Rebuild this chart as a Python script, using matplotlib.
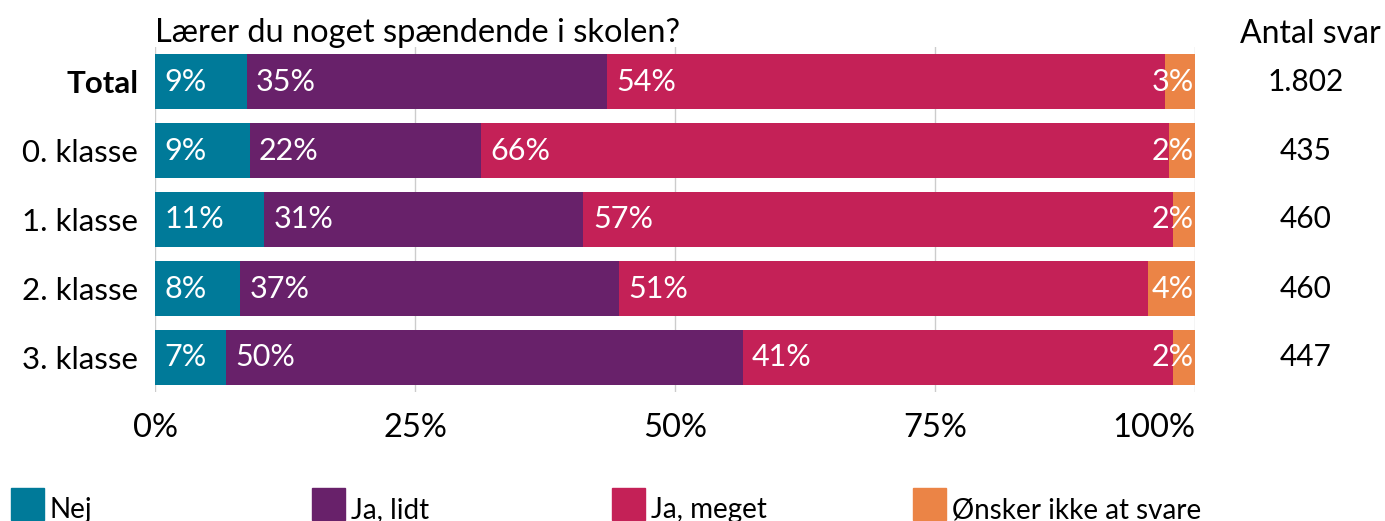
"""Stacked bar chart: Lærer du noget spændende i skolen?"""

import matplotlib

matplotlib.use("Agg")
import matplotlib.pyplot as plt
from matplotlib.patches import Rectangle
from matplotlib.transforms import blended_transform_factory

plt.rcParams["font.family"] = ["Lato", "DejaVu Sans"]

categories = ["Total", "0. klasse", "1. klasse", "2. klasse", "3. klasse"]
answer_counts = ["1.802", "435", "460", "460", "447"]
series_names = ["Nej", "Ja, lidt", "Ja, meget", "Ønsker ikke at svare"]
series_colors = ["#007A99", "#68216A", "#C42157", "#EB8446"]

# shares in percent
nej = [8.8, 9.1, 10.5, 8.2, 6.8]
ja_lidt = [34.7, 22.2, 30.7, 36.4, 49.7]
ja_meget = [53.6, 66.2, 56.7, 50.9, 41.4]
oensker_ikke = [2.9, 2.5, 2.1, 4.5, 2.1]
value_labels = [
    ["9%", "9%", "11%", "8%", "7%"],
    ["35%", "22%", "31%", "37%", "50%"],
    ["54%", "66%", "57%", "51%", "41%"],
    ["3%", "2%", "2%", "4%", "2%"],
]
x_ticks = [0, 25, 50, 75, 100]
x_tick_labels = ["0%", "25%", "50%", "75%", "100%"]

series_values = [nej, ja_lidt, ja_meget, oensker_ikke]

width_px, height_px = 1385, 521
figure = plt.figure(figsize=(width_px / 100, height_px / 100), dpi=100)
axis = figure.add_axes(
    [155 / width_px, 1 - 392 / height_px, 1040 / width_px, 345 / height_px]
)

rows = list(range(len(categories)))
left = [0.0] * len(categories)
for index, values in enumerate(series_values):
    axis.barh(
        rows,
        values,
        left=left,
        height=0.8,
        color=series_colors[index],
        zorder=2,
    )
    for row in rows:
        last = index == len(series_values) - 1
        axis.text(
            99.9 if last else left[row] + 0.9,
            row,
            value_labels[index][row],
            ha="right" if last else "left",
            va="center",
            color="white",
            fontsize=22,
            zorder=3,
        )
    left = [start + value for start, value in zip(left, values)]

axis.set_xlim(0, 100)
axis.set_ylim(len(categories) - 0.5, -0.5)
axis.set_xticks(x_ticks)
axis.set_xticklabels(x_tick_labels, fontsize=23.5)
axis.get_xticklabels()[-1].set_horizontalalignment("right")
axis.set_yticks(rows)
axis.set_yticklabels(categories, fontsize=22.5)
axis.get_yticklabels()[0].set_fontweight("bold")
axis.tick_params(axis="x", length=0, pad=15)
axis.tick_params(axis="y", length=0, pad=12)
axis.grid(axis="x", color="#CCCCCC", linewidth=1.0, zorder=1)
for spine in axis.spines.values():
    spine.set_visible(False)

figure.text(
    155 / width_px,
    1 - 42 / height_px,
    "Lærer du noget spændende i skolen?",
    ha="left",
    va="baseline",
    fontsize=23.5,
)
figure.text(
    1310 / width_px,
    1 - 43 / height_px,
    "Antal svar",
    ha="center",
    va="baseline",
    fontsize=23,
)

# answer counts to the right of the bars
count_transform = blended_transform_factory(axis.transAxes, axis.transData)
for row, count in zip(rows, answer_counts):
    axis.text(
        1.106,
        row,
        count,
        transform=count_transform,
        ha="center",
        va="center",
        fontsize=21.5,
    )

# legend along the bottom edge
legend_x = [11, 312, 612, 913]
for position, name, color in zip(legend_x, series_names, series_colors):
    figure.patches.append(
        Rectangle(
            (position / width_px, 1 / height_px),
            33 / width_px,
            32 / height_px,
            transform=figure.transFigure,
            color=color,
        )
    )
    figure.text(
        (position + 39) / width_px,
        3 / height_px,
        name,
        ha="left",
        va="baseline",
        fontsize=20,
    )

figure.savefig("out.png", dpi=100)
